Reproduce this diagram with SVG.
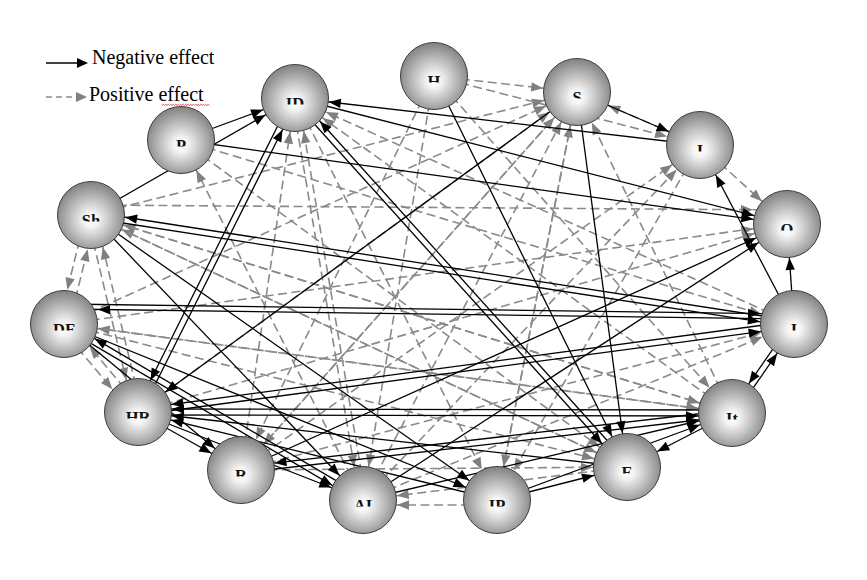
<svg xmlns="http://www.w3.org/2000/svg" width="867" height="580" viewBox="0 0 867 580">
<defs>
<style>
.neg line{stroke:#000;stroke-width:1.3;marker-end:url(#ah);fill:none}
.pos line{stroke:#8a8a8a;stroke-width:1.6;stroke-dasharray:9 4.5;marker-end:url(#ahg);fill:none}
.node circle{fill:url(#sph);stroke:#3c3c3c;stroke-width:1}
.node text{font-family:"Liberation Serif",serif;font-size:16.5px;font-weight:bold;text-anchor:middle;fill:#111}
.leg{font-family:"Liberation Serif",serif;font-size:20px;fill:#000}
</style>
<radialGradient id="sph" cx="0.5" cy="0.55" r="0.52" fx="0.5" fy="0.58">
<stop offset="0" stop-color="#ffffff"/>
<stop offset="0.2" stop-color="#f4f4f4"/>
<stop offset="1" stop-color="#888888"/>
</radialGradient>
<marker id="ah" markerUnits="userSpaceOnUse" viewBox="0 0 48 10" markerWidth="48" markerHeight="10" refX="48" refY="5" orient="auto"><path d="M2,0.3 L14,5 L2,9.7 Z" fill="#000"/></marker>
<marker id="ahg" markerUnits="userSpaceOnUse" viewBox="0 0 48 10" markerWidth="48" markerHeight="10" refX="48" refY="5" orient="auto"><path d="M2,0.3 L14,5 L2,9.7 Z" fill="#808080"/></marker>
<clipPath id="lc" clipPathUnits="userSpaceOnUse"><rect x="-30" y="-15" width="60" height="21.5"/></clipPath>
</defs>
<rect width="867" height="580" fill="#fff"/>

<g id="legend">
<line x1="46" y1="63" x2="78" y2="63" stroke="#000" stroke-width="1.5"/>
<polygon points="77,58 88,63 77,68" fill="#000"/>
<text class="leg" x="92" y="63.5">Negative effect</text>
<line x1="46" y1="97" x2="76" y2="97" stroke="#8a8a8a" stroke-width="1.6" stroke-dasharray="6 4"/>
<polygon points="76,92 87,97 76,102" fill="#808080"/>
<text class="leg" x="89" y="101">Positive effect</text>
<path d="M162,105.5 l1.25,-1.2 l1.25,1.2 l1.25,-1.2 l1.25,1.2 l1.25,-1.2 l1.25,1.2 l1.25,-1.2 l1.25,1.2 l1.25,-1.2 l1.25,1.2 l1.25,-1.2 l1.25,1.2 l1.25,-1.2 l1.25,1.2 l1.25,-1.2 l1.25,1.2 l1.25,-1.2 l1.25,1.2 l1.25,-1.2 l1.25,1.2 l1.25,-1.2 l1.25,1.2 l1.25,-1.2 l1.25,1.2 l1.25,-1.2 l1.25,1.2 l1.25,-1.2 l1.25,1.2 l1.25,-1.2 l1.25,1.2 l1.25,-1.2 l1.25,1.2 l1.25,-1.2 l1.25,1.2 l1.25,-1.2 l1.25,1.2 l1.25,-1.2 l1.25,1.2" fill="none" stroke="#e02020" stroke-width="0.8"/>
</g>

<g id="connectors">
<g class="pos">
<line x1="434" y1="76" x2="577" y2="92"/>
<line x1="91" y1="215" x2="577" y2="92"/>
<line x1="700" y1="145" x2="577" y2="92"/>
<line x1="64" y1="324" x2="577" y2="92"/>
<line x1="138" y1="412" x2="577" y2="92"/>
<line x1="241" y1="470" x2="577" y2="92"/>
<line x1="363" y1="500" x2="577" y2="92"/>
<line x1="497" y1="500" x2="577" y2="92"/>
<line x1="732" y1="413" x2="577" y2="92"/>
<line x1="241" y1="470" x2="295" y2="98"/>
<line x1="366" y1="499.5" x2="298" y2="97.5"/>
<line x1="292" y1="98.5" x2="360" y2="500.5"/>
<line x1="732" y1="413" x2="295" y2="98"/>
<line x1="794" y1="324" x2="295" y2="98"/>
<line x1="295" y1="98" x2="497" y2="500"/>
<line x1="68.9" y1="325.2" x2="95.9" y2="216.2"/>
<line x1="86.1" y1="213.8" x2="59.1" y2="322.8"/>
<line x1="141.9" y1="411.1" x2="94.9" y2="214.1"/>
<line x1="87.1" y1="215.9" x2="134.1" y2="412.9"/>
<line x1="627" y1="467" x2="91" y2="215"/>
<line x1="732" y1="413" x2="91" y2="215"/>
<line x1="363" y1="500" x2="181" y2="140"/>
<line x1="60.2" y1="327.2" x2="134.2" y2="415.2"/>
<line x1="141.8" y1="408.8" x2="67.8" y2="320.8"/>
<line x1="732" y1="413" x2="64" y2="324"/>
<line x1="434" y1="76" x2="363" y2="500"/>
<line x1="434" y1="76" x2="241" y2="470"/>
<line x1="497" y1="505" x2="363" y2="505"/>
<line x1="627" y1="467" x2="363" y2="500"/>
<line x1="577" y1="92" x2="497" y2="500"/>
<line x1="700" y1="145" x2="497" y2="500"/>
<line x1="64" y1="324" x2="627" y2="467"/>
<line x1="241" y1="470" x2="627" y2="467"/>
<line x1="91" y1="215" x2="627" y2="467"/>
<line x1="64" y1="324" x2="732" y2="413"/>
<line x1="91" y1="215" x2="732" y2="413"/>
<line x1="700" y1="145" x2="787" y2="224"/>
<line x1="91" y1="205" x2="787" y2="210"/>
<line x1="64" y1="324" x2="787" y2="224"/>
<line x1="138" y1="412" x2="787" y2="224"/>
<line x1="241" y1="470" x2="794" y2="324"/>
<line x1="363" y1="500" x2="794" y2="324"/>
<line x1="181" y1="140" x2="794" y2="324"/>
<line x1="434" y1="76" x2="700" y2="145"/>
<line x1="241" y1="470" x2="700" y2="145"/>
<line x1="363" y1="500" x2="700" y2="145"/>
<line x1="434" y1="76" x2="732" y2="413"/>
<line x1="577" y1="92" x2="241" y2="470"/>
<line x1="181" y1="140" x2="627" y2="467"/>
</g>
<g class="neg">
<line x1="181" y1="140" x2="295" y2="98"/>
<line x1="181" y1="140" x2="787" y2="224"/>
<line x1="91" y1="215" x2="295" y2="98"/>
<line x1="140.7" y1="413.3" x2="297.7" y2="99.3"/>
<line x1="292.3" y1="96.7" x2="135.3" y2="410.7"/>
<line x1="292.8" y1="100" x2="624.8" y2="469"/>
<line x1="629.2" y1="465" x2="297.2" y2="96"/>
<line x1="700" y1="145" x2="295" y2="98"/>
<line x1="295" y1="98" x2="787" y2="224"/>
<line x1="434" y1="76" x2="627" y2="467"/>
<line x1="577" y1="92" x2="138" y2="412"/>
<line x1="577" y1="92" x2="627" y2="467"/>
<line x1="577" y1="92" x2="700" y2="145"/>
<line x1="794" y1="324" x2="700" y2="145"/>
<line x1="794" y1="324" x2="787" y2="224"/>
<line x1="90.5" y1="218" x2="793.5" y2="327"/>
<line x1="794.5" y1="321" x2="91.5" y2="212"/>
<line x1="64" y1="304" x2="794" y2="314"/>
<line x1="794" y1="319" x2="64" y2="309"/>
<line x1="138.4" y1="415" x2="794.4" y2="327"/>
<line x1="793.6" y1="321" x2="137.6" y2="409"/>
<line x1="91" y1="215" x2="363" y2="500"/>
<line x1="91" y1="215" x2="497" y2="500"/>
<line x1="64" y1="324" x2="241" y2="470"/>
<line x1="62.5" y1="326.6" x2="361.5" y2="502.6"/>
<line x1="364.5" y1="497.4" x2="65.5" y2="321.4"/>
<line x1="64" y1="324" x2="497" y2="500"/>
<line x1="138" y1="412" x2="241" y2="470"/>
<line x1="138" y1="412" x2="363" y2="500"/>
<line x1="363" y1="500" x2="787" y2="224"/>
<line x1="241" y1="470" x2="787" y2="224"/>
<line x1="497" y1="500" x2="627" y2="467"/>
<line x1="138" y1="415" x2="732" y2="416"/>
<line x1="732" y1="410" x2="138" y2="409"/>
<line x1="241.3" y1="473" x2="732.3" y2="416"/>
<line x1="731.7" y1="410" x2="240.7" y2="467"/>
<line x1="732" y1="413" x2="627" y2="467"/>
<line x1="791.5" y1="322.3" x2="729.5" y2="411.3"/>
<line x1="734.5" y1="414.7" x2="796.5" y2="325.7"/>
<line x1="363" y1="500" x2="732" y2="413"/>
<line x1="497" y1="500" x2="732" y2="413"/>
<line x1="497" y1="500" x2="138" y2="412"/>
<line x1="627" y1="467" x2="138" y2="412"/>
</g>
</g>

<g id="n-P" class="node" transform="translate(181,140)"><circle r="33.5"/><text y="10.8" clip-path="url(#lc)">P</text></g>
<g id="n-ID" class="node" transform="translate(295,98)"><circle r="33.5"/><text y="10.8" clip-path="url(#lc)">ID</text></g>
<g id="n-H" class="node" transform="translate(434,76)"><circle r="33.5"/><text y="10.8" clip-path="url(#lc)">H</text></g>
<g id="n-S" class="node" transform="translate(577,92)"><circle r="33.5"/><text y="10.8" clip-path="url(#lc)">S</text></g>
<g id="n-I-top" class="node" transform="translate(700,145)"><circle r="33.5"/><text y="10.8" clip-path="url(#lc)">I</text></g>
<g id="n-O" class="node" transform="translate(787,224)"><circle r="33.5"/><text y="10.8" clip-path="url(#lc)">O</text></g>
<g id="n-I-right" class="node" transform="translate(794,324)"><circle r="33.5"/><text y="10.8" clip-path="url(#lc)">I</text></g>
<g id="n-It" class="node" transform="translate(732,413)"><circle r="33.5"/><text y="10.8" clip-path="url(#lc)">It</text></g>
<g id="n-E" class="node" transform="translate(627,467)"><circle r="33.5"/><text y="10.8" clip-path="url(#lc)">E</text></g>
<g id="n-IP" class="node" transform="translate(497,500)"><circle r="33.5"/><text y="10.8" clip-path="url(#lc)">IP</text></g>
<g id="n-AI" class="node" transform="translate(363,500)"><circle r="33.5"/><text y="10.8" clip-path="url(#lc)">AI</text></g>
<g id="n-R" class="node" transform="translate(241,470)"><circle r="33.5"/><text y="10.8" clip-path="url(#lc)">R</text></g>
<g id="n-HR" class="node" transform="translate(138,412)"><circle r="33.5"/><text y="10.8" clip-path="url(#lc)">HR</text></g>
<g id="n-DF" class="node" transform="translate(64,324)"><circle r="33.5"/><text y="10.8" clip-path="url(#lc)">DF</text></g>
<g id="n-Sh" class="node" transform="translate(91,215)"><circle r="33.5"/><text y="10.8" clip-path="url(#lc)">Sh</text></g>
</svg>
